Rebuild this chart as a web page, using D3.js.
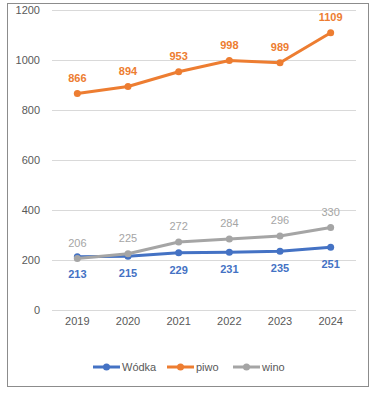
<!DOCTYPE html>
<html><head><meta charset="utf-8">
<script src="https://cdn.jsdelivr.net/npm/d3@7"></script>
<style>body{margin:0;background:#fff}svg{display:block}</style>
</head><body>
<script>
const years = ["2019","2020","2021","2022","2023","2024"];
const wodka = [213,215,229,231,235,251];
const piwo = [866,894,953,998,989,1109];
const wino = [206,225,272,284,296,330];
const yTicks = [0,200,400,600,800,1000,1200];
const seriesNames = ["Wódka","piwo","wino"];
const colors = ["#4472C4","#ED7D31","#A5A5A5"];

const series = [
  {name: seriesNames[0], values: wodka, color: colors[0], labelPos: "below", bold: true},
  {name: seriesNames[1], values: piwo, color: colors[1], labelPos: "above", bold: true},
  {name: seriesNames[2], values: wino, color: colors[2], labelPos: "above", bold: false}
];

const W = 381, H = 397;
const svg = d3.select("body").append("svg").attr("width", W).attr("height", H);
const font = "'Liberation Sans', Arial, sans-serif";

svg.append("rect").attr("x", 7.5).attr("y", 3.5).attr("width", 361).attr("height", 383)
  .attr("fill", "#fff").attr("stroke", "#8c8c8c").attr("stroke-width", 1);

const x = d3.scaleBand().domain(years).range([52, 356]);
const y = d3.scaleLinear().domain([0, 1200]).range([310, 10]);

const g = svg.append("g");
g.selectAll("line.grid").data(yTicks).enter().append("line")
  .attr("x1", 52).attr("x2", 356)
  .attr("y1", d => Math.round(y(d)) + 0.5).attr("y2", d => Math.round(y(d)) + 0.5)
  .attr("stroke", "#d9d9d9").attr("stroke-width", 1);

const yAxis = d3.axisLeft(y).tickValues(yTicks).tickSize(0).tickPadding(0).tickFormat(d3.format("d"));
const ya = svg.append("g").attr("transform", "translate(40,0)").call(yAxis);
ya.select(".domain").remove();
ya.selectAll("text").attr("font-family", font).attr("font-size", 11).attr("fill", "#595959");

const xAxis = d3.axisBottom(x).tickSize(0).tickPadding(0);
const xa = svg.append("g").attr("transform", "translate(0,317)").call(xAxis);
xa.select(".domain").remove();
xa.selectAll("text").attr("font-family", font).attr("font-size", 11).attr("fill", "#595959");

const cx = d => x(d) + x.bandwidth() / 2;
const line = d3.line().x((d, i) => cx(years[i])).y(d => y(d));

series.forEach(s => {
  g.append("path").attr("d", line(s.values)).attr("fill", "none")
    .attr("stroke", s.color).attr("stroke-width", 3).attr("stroke-linejoin", "round").attr("stroke-linecap", "round");
  g.selectAll(null).data(s.values).enter().append("circle")
    .attr("cx", (d, i) => cx(years[i])).attr("cy", d => y(d)).attr("r", 3.5).attr("fill", s.color);
});
series.forEach(s => {
  g.selectAll(null).data(s.values).enter().append("text")
    .attr("x", (d, i) => cx(years[i]))
    .attr("y", d => s.labelPos === "above" ? y(d) - 12 : y(d) + 21)
    .attr("text-anchor", "middle").attr("font-family", font).attr("font-size", 11)
    .attr("font-weight", s.bold ? "bold" : "normal").attr("fill", s.color).text(d => d);
});

const legendX = [93, 167, 233];
const leg = svg.append("g");
series.forEach((s, i) => {
  const lx = legendX[i];
  leg.append("line").attr("x1", lx).attr("x2", lx + 27).attr("y1", 367).attr("y2", 367)
    .attr("stroke", s.color).attr("stroke-width", 3);
  leg.append("circle").attr("cx", lx + 13.5).attr("cy", 367).attr("r", 3.5).attr("fill", s.color);
  leg.append("text").attr("x", lx + 29).attr("y", 371).attr("font-family", font).attr("font-size", 11)
    .attr("fill", "#595959").text(s.name);
});
</script>
</body></html>
